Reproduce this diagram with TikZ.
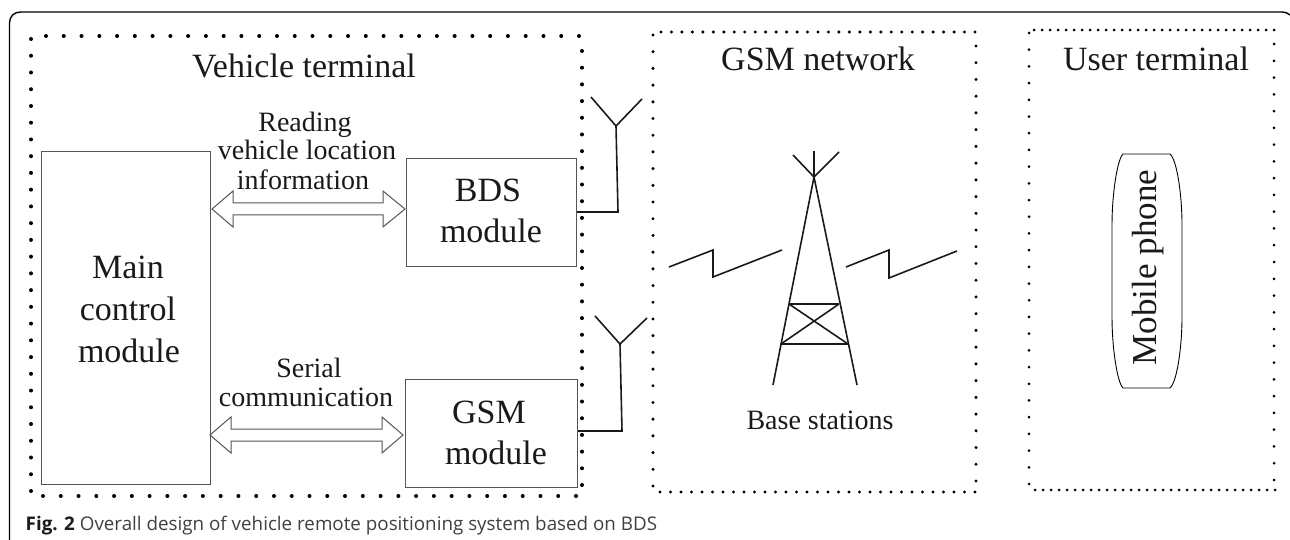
\documentclass[tikz,border=0pt]{standalone}
\usepackage{fontspec}
\setmainfont{Liberation Serif}
\newfontfamily\capfont{Open Sans}
\definecolor{boxgray}{HTML}{555555}
\definecolor{inkdark}{HTML}{1A1A1A}
\newcommand{\dotrow}[6]{% x1 y1 x2 y2 intervals radius
  \foreach \i in {0,...,#5}{
    \pgfmathsetmacro{\px}{#1+(#3-#1)*\i/#5}
    \pgfmathsetmacro{\py}{#2+(#4-#2)*\i/#5}
    \fill[black] (\px,\py) circle[radius=#6];
  }}
\newcommand{\dblarrow}[7]{% name, tipL, baseL, baseR, tipR, yc, head half-height
  \draw[arrowline] (#2,#6) -- (#3,#6-#7) -- (#3,#6-6) -- (#4,#6-6) -- (#4,#6-#7) -- (#5,#6)
    -- (#4,#6+#7) -- (#4,#6+6) -- (#3,#6+6) -- (#3,#6+#7) -- cycle;}
\tikzset{
  x=1pt,y=-1pt,
  modbox/.style={draw=boxgray,line width=1pt,fill=none,inner sep=0pt,anchor=north west},
  arrowline/.style={draw=boxgray,line width=1pt,line join=miter},
  wire/.style={draw=inkdark,line width=1.6pt,line join=miter},
  lab/.style={anchor=base,inner sep=0pt,text=inkdark,font=\fontsize{34}{34}\selectfont},
  sublab/.style={anchor=base,inner sep=0pt,text=inkdark,font=\fontsize{28}{28}\selectfont},
}
\begin{document}
\begin{tikzpicture}
\useasboundingbox (0,0) rectangle (1290,540);
\clip (0,0) rectangle (1290,540);
% outer frame
\draw[black,line width=1.4pt] (9.5,540) -- (9.5,23) .. controls (9.5,16) and (14.5,12) .. (20.5,12) -- (1282,12) .. controls (1285,12) and (1288,13) .. (1290,15);
% vehicle terminal dots
\dotrow{31}{39}{31}{491}{27}{2}
\dotrow{46}{36}{579}{36}{30}{2}
\dotrow{582}{51}{582}{485}{26}{2}
\dotrow{43}{496}{576}{496}{30}{2}
% GSM network dots
\dotrow{653}{35}{653}{486}{27}{1.7}
\dotrow{661}{32}{975}{32}{30}{1.7}
\dotrow{976}{46}{976}{481}{26}{1.7}
\dotrow{660}{492}{975}{492}{30}{1.7}
% user terminal dots
\dotrow{1029}{33}{1029}{484}{27}{1.5}
\dotrow{1034}{30}{1274}{30}{30}{1.5}
\dotrow{1274}{44}{1274}{480}{26}{1.5}
\dotrow{1035}{490}{1275}{490}{30}{1.5}
% titles
\node[lab] (vt) at (304,78) {Vehicle terminal};
\node[lab] (gn) at (818,71) {GSM network};
\node[lab] (ut) at (1156,71) {User terminal};
% boxes
\node[modbox,minimum width=169pt,minimum height=333pt] (main) at (41,151) {};
\node[modbox,minimum width=170pt,minimum height=108pt] (bds) at (406,158) {};
\node[modbox,minimum width=172pt,minimum height=108pt] (gsm) at (405,379) {};
\node[lab] (m1) at (128,278) {Main};
\node[lab] (m2) at (128,320) {control};
\node[lab] (m3) at (129,362) {module};
\node[lab] (b1) at (488,202) {BDS};
\node[lab] (b2) at (491,243) {module};
\node[lab] (g1) at (489,423) {GSM};
\node[lab] (g2) at (496,464) {module};
% connector labels
\node[sublab] (r1) at (305,132) {Reading};
\node[sublab] (r2) at (307,160) {vehicle location};
\node[sublab] (r3) at (303,190) {information};
\node[sublab] (s1) at (309,377) {Serial};
\node[sublab] (s2) at (306,406) {communication};
% double arrows
\dblarrow{a1}{212}{233}{383}{405}{209}{18}
\dblarrow{a2}{210}{231}{382}{403}{435}{18}
% antennas
\coordinate (an1) at (616,126);
\coordinate (an1b) at (618,212);
\draw[wire] (591,97) -- (an1) -- (642,99);
\draw[wire] (an1) -- (an1b) -- (bds.east |- an1b);
\coordinate (an2) at (620,344);
\coordinate (an2b) at (622,431);
\draw[wire] (595,316) -- (an2) -- (647,318);
\draw[wire] (an2) -- (an2b) -- (gsm.east |- an2b);
% tower
\coordinate (apex) at (814,177);
\draw[wire] (814,151) -- (apex);
\draw[wire] (793,155) -- (apex) -- (839,152);
\draw[wire] (773,385) -- (apex) -- (857,385);
\draw[wire] (789,304) -- (839,304);
\draw[wire] (781,344) -- (848,344);
\draw[wire] (789,304) -- (848,344);
\draw[wire] (839,304) -- (781,344);
% radio zigzags
\draw[wire] (669,267) -- (713,250) -- (713,277) -- (782,250);
\draw[wire] (846,267) -- (889,250) -- (889,278) -- (957,251);
\node[sublab] (bs) at (820,429) {Base stations};
% mobile phone
\draw[draw=black,line width=0.9pt] (1123,154) -- (1170,154)
  .. controls (1177,160) and (1182,195) .. (1182,225) -- (1182,317)
  .. controls (1182,347) and (1177,382) .. (1170,388) -- (1123,388)
  .. controls (1117,382) and (1112,347) .. (1112,317) -- (1112,225)
  .. controls (1112,195) and (1117,160) .. (1123,154) -- cycle;
\node[anchor=base,inner sep=0pt,text=inkdark,font=\fontsize{35}{35}\selectfont,rotate=90] (mp) at (1156,267.5) {Mobile phone};
% caption
\node[anchor=base west,inner sep=0pt,font=\capfont\fontsize{18.8}{18.8}\selectfont,text=inkdark] (cap) at (25.5,530) {\textbf{Fig. 2} \textcolor{black!75}{Overall design of vehicle remote positioning system based on BDS}};
\end{tikzpicture}
\end{document}
